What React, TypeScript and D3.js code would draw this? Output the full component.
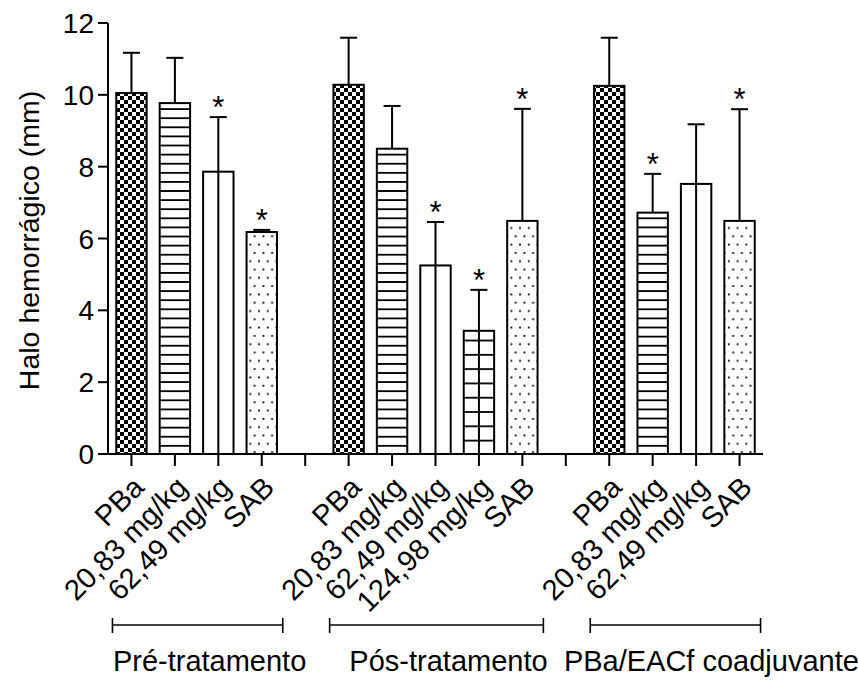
import React, { useEffect, useRef } from 'react'
import * as d3 from 'd3'

// group names under the brackets
const groupNames = ['Pré-tratamento', 'Pós-tratamento', 'PBa/EACf coadjuvante']

// Pré-tratamento
const preLabels = ['PBa', '20,83 mg/kg', '62,49 mg/kg', 'SAB']
const preMeans = [10.05, 9.77, 7.86, 6.18]
const preErr = [1.12, 1.26, 1.52, 0.06]
const preSig = [false, false, true, true]

// Pós-tratamento
const posLabels = ['PBa', '20,83 mg/kg', '62,49 mg/kg', '124,98 mg/kg', 'SAB']
const posMeans = [10.28, 8.5, 5.25, 3.43, 6.49]
const posErr = [1.31, 1.19, 1.21, 1.14, 3.12]
const posSig = [false, false, true, true, true]

// PBa/EACf coadjuvante
const coLabels = ['PBa', '20,83 mg/kg', '62,49 mg/kg', 'SAB']
const coMeans = [10.25, 6.72, 7.52, 6.49]
const coErr = [1.34, 1.08, 1.66, 3.11]
const coSig = [false, true, false, true]

const yTicks = [0, 2, 4, 6, 8, 10, 12]
const yTitle = 'Halo hemorrágico (mm)'

const FONT = 'Arial, "Liberation Sans", sans-serif'

function patternFor(label) {
  if (label === 'PBa') return 'checker'
  if (label.startsWith('20,83')) return 'hlines'
  if (label.startsWith('62,49')) return 'vline'
  if (label.startsWith('124,98')) return 'grid'
  return 'dots'
}

export default function App() {
  const ref = useRef(null)

  useEffect(() => {
    const w = 858
    const h = 681
    const svg = d3.select(ref.current)
    svg.selectAll('*').remove()
    svg.attr('width', w).attr('height', h)

    // build the slot list, gap slots between groups
    const sets = [
      [preLabels, preMeans, preErr, preSig],
      [posLabels, posMeans, posErr, posSig],
      [coLabels, coMeans, coErr, coSig],
    ]
    const slots = []
    const bars = []
    const groupSlots = []
    sets.forEach((s, gi) => {
      const keys = []
      s[0].forEach((lab, i) => {
        const key = 'g' + gi + '-' + i
        slots.push(key)
        keys.push(key)
        bars.push({ key, label: lab, mean: s[1][i], err: s[2][i], sig: s[3][i] })
      })
      groupSlots.push(keys)
      if (gi < sets.length - 1) slots.push('gap' + gi)
    })

    const left = 108
    const right = 763
    const x = d3.scalePoint().domain(slots).range([left, right]).padding(0.54)
    const y = d3.scaleLinear().domain([0, 12]).range([454, 23])
    const bw = x.step() * 0.7

    const defs = svg.append('defs')
    const checker = defs.append('pattern').attr('id', 'checker')
      .attr('patternUnits', 'userSpaceOnUse').attr('width', 8).attr('height', 8)
    checker.append('rect').attr('width', 8).attr('height', 8).attr('fill', '#fff')
    checker.append('rect').attr('width', 4).attr('height', 4).attr('fill', '#000')
    checker.append('rect').attr('x', 4).attr('y', 4).attr('width', 4).attr('height', 4).attr('fill', '#000')

    const hl = defs.append('pattern').attr('id', 'hlines')
      .attr('patternUnits', 'userSpaceOnUse').attr('width', 10).attr('height', 9.1)
      .attr('y', y(0))
    hl.append('rect').attr('width', 10).attr('height', 9.1).attr('fill', '#fff')
    hl.append('line').attr('x1', 0).attr('x2', 10).attr('y1', 0.9).attr('y2', 0.9)
      .attr('stroke', '#000').attr('stroke-width', 1.8)

    const gr = defs.append('pattern').attr('id', 'grid')
      .attr('patternUnits', 'userSpaceOnUse').attr('width', 10).attr('height', 14.3)
      .attr('y', y(0))
    gr.append('rect').attr('width', 10).attr('height', 14.3).attr('fill', '#fff')
    gr.append('line').attr('x1', 0).attr('x2', 10).attr('y1', 0.9).attr('y2', 0.9)
      .attr('stroke', '#000').attr('stroke-width', 1.8)

    const dt = defs.append('pattern').attr('id', 'dots')
      .attr('patternUnits', 'userSpaceOnUse').attr('width', 8.7).attr('height', 16.6)
    dt.append('rect').attr('width', 8.7).attr('height', 16.6).attr('fill', '#fff')
    dt.append('rect').attr('x', 1.5).attr('y', 3).attr('width', 1.8).attr('height', 1.8).attr('fill', '#000')
    dt.append('rect').attr('x', 5.85).attr('y', 11.3).attr('width', 1.8).attr('height', 1.8).attr('fill', '#000')

    const g = svg.append('g')

    // bars
    bars.forEach(b => {
      const cx = x(b.key)
      const kind = patternFor(b.label)
      const fill = kind === 'vline' ? '#fff' : 'url(#' + kind + ')'
      g.append('rect')
        .attr('x', cx - bw / 2).attr('y', y(b.mean))
        .attr('width', bw).attr('height', y(0) - y(b.mean))
        .attr('fill', fill).attr('stroke', '#000').attr('stroke-width', 2)
      if (kind === 'vline' || kind === 'grid') {
        g.append('line').attr('x1', cx).attr('x2', cx)
          .attr('y1', y(0)).attr('y2', y(b.mean))
          .attr('stroke', '#000').attr('stroke-width', 2)
      }
      // error bar
      const top = y(b.mean + b.err)
      g.append('line').attr('x1', cx).attr('x2', cx)
        .attr('y1', y(b.mean)).attr('y2', top)
        .attr('stroke', '#000').attr('stroke-width', 2)
      g.append('line').attr('x1', cx - 8.5).attr('x2', cx + 8.5)
        .attr('y1', top).attr('y2', top)
        .attr('stroke', '#000').attr('stroke-width', 2)
      if (b.sig) {
        g.append('text').attr('x', cx).attr('y', top + 1)
          .attr('text-anchor', 'middle')
          .attr('font-family', FONT).attr('font-size', 31)
          .text('*')
      }
    })

    // y axis
    g.append('line').attr('x1', left).attr('x2', left)
      .attr('y1', y(0)).attr('y2', y(12))
      .attr('stroke', '#000').attr('stroke-width', 2)
    yTicks.forEach(t => {
      g.append('line').attr('x1', left - 10).attr('x2', left)
        .attr('y1', y(t)).attr('y2', y(t))
        .attr('stroke', '#000').attr('stroke-width', 2)
      g.append('text').attr('x', left - 14).attr('y', y(t))
        .attr('dy', '0.36em').attr('text-anchor', 'end')
        .attr('font-family', FONT).attr('font-size', 28)
        .text(t)
    })
    g.append('text')
      .attr('transform', 'translate(39,' + (y(6) + 2) + ') rotate(-90)')
      .attr('text-anchor', 'middle')
      .attr('font-family', FONT).attr('font-size', 28.5)
      .text(yTitle)

    // x axis
    g.append('line').attr('x1', left).attr('x2', right)
      .attr('y1', y(0)).attr('y2', y(0))
      .attr('stroke', '#000').attr('stroke-width', 2)
    slots.forEach(s => {
      g.append('line').attr('x1', x(s)).attr('x2', x(s))
        .attr('y1', y(0)).attr('y2', y(0) + 12)
        .attr('stroke', '#000').attr('stroke-width', 2)
    })
    bars.forEach(b => {
      g.append('text')
        .attr('transform', 'translate(' + (x(b.key) + 7) + ',' + (y(0) + 28) + ') rotate(-45)')
        .attr('text-anchor', 'end').attr('dy', '0.35em')
        .attr('font-family', FONT).attr('font-size', 29)
        .text(b.label)
    })

    // group brackets
    const by = 625
    const nameShift = [12, 12, 36]
    groupSlots.forEach((keys, gi) => {
      const x0 = x(keys[0]) - 19
      const x1 = x(keys[keys.length - 1]) + 21
      g.append('line').attr('x1', x0).attr('x2', x1).attr('y1', by).attr('y2', by)
        .attr('stroke', '#000').attr('stroke-width', 1.6)
      ;[x0, x1].forEach(xx => {
        g.append('line').attr('x1', xx).attr('x2', xx).attr('y1', by - 7).attr('y2', by + 8)
          .attr('stroke', '#000').attr('stroke-width', 1.6)
      })
      g.append('text').attr('x', (x0 + x1) / 2 + nameShift[gi]).attr('y', 671)
        .attr('text-anchor', 'middle')
        .attr('font-family', FONT).attr('font-size', 29)
        .text(groupNames[gi])
    })
  }, [])

  return (
    <svg ref={ref} style={{ position: 'absolute', left: 0, top: 0, background: '#fff' }}></svg>
  )
}
